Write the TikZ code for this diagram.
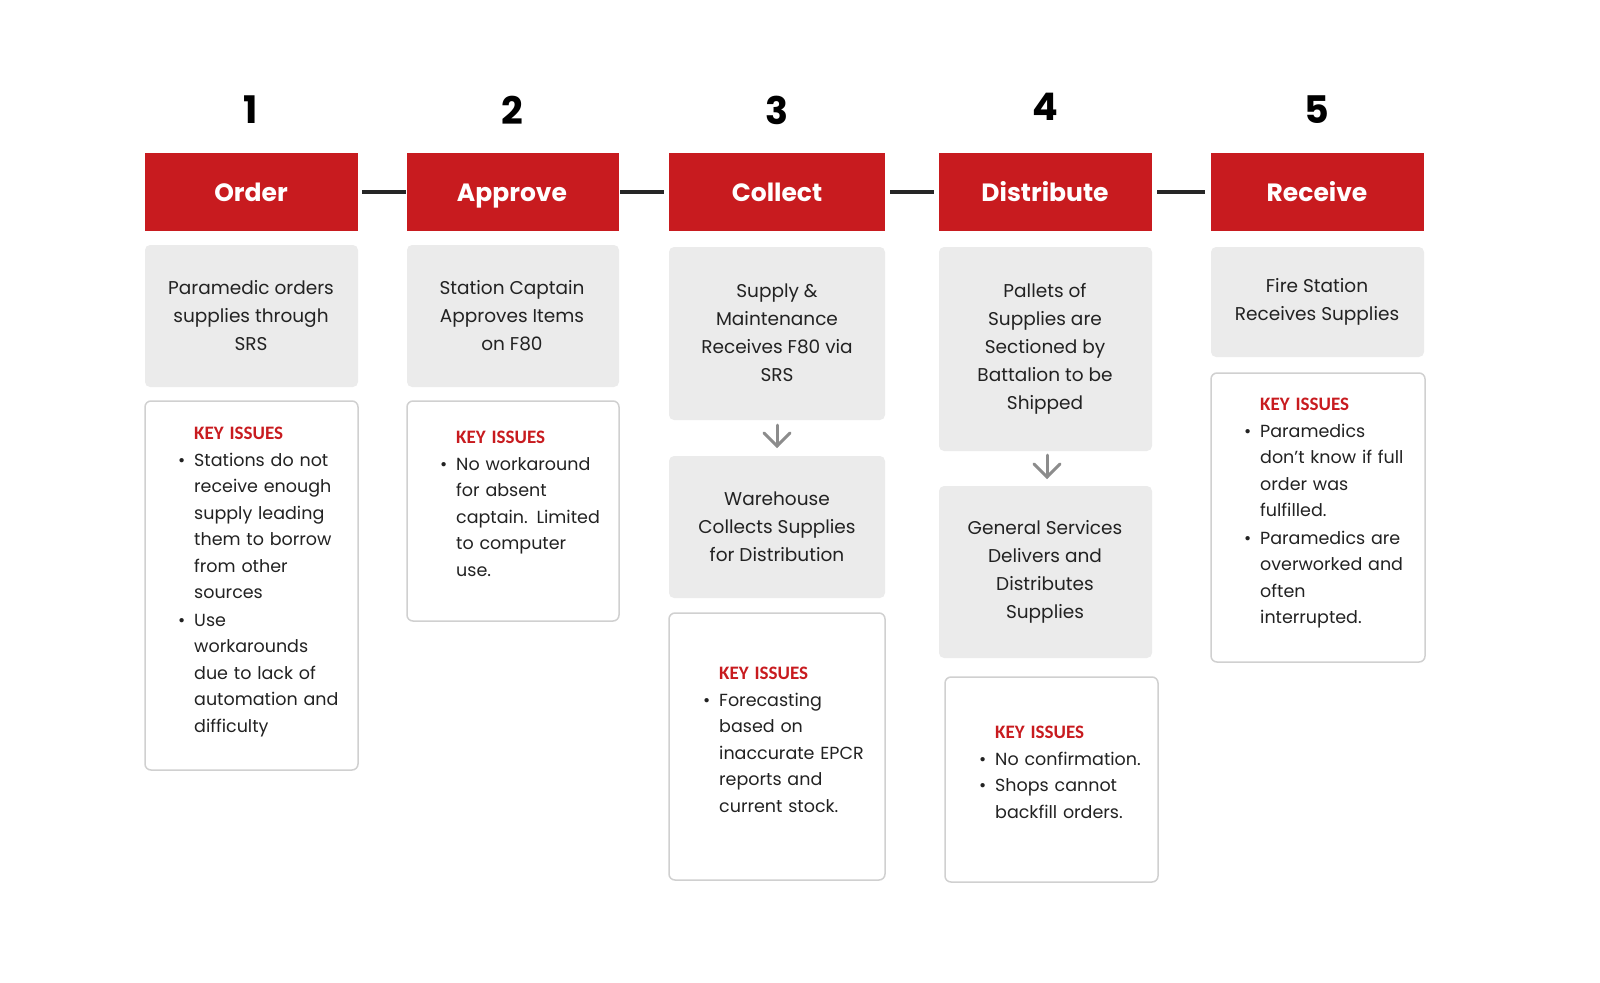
\documentclass[tikz,border=0pt]{standalone}
\usepackage{fontspec}
\setmainfont{Poppins}
\newfontfamily\keyfont{Carlito}
\definecolor{hred}{HTML}{C81B1F}
\definecolor{gbox}{HTML}{EBEBEB}
\definecolor{gline}{HTML}{D0D0D0}
\definecolor{txt}{HTML}{222222}
\newcommand\kitem[1]{\par\noindent\makebox[17pt][l]{\hspace{1pt}\textbullet}\begin{tabular}[t]{@{}l@{}}#1\end{tabular}\par}
\newcommand\ktitle{\noindent\hspace{17pt}{\keyfont\bfseries\fontsize{19}{26.5}\selectfont\color{hred}KEY ISSUES}\par}
\begin{document}
\begin{tikzpicture}[x=1pt,y=-1pt,
  hdr/.style={text=white,font=\fontsize{25}{30}\selectfont\bfseries,inner sep=0pt,text height=18pt,text depth=6pt},
  num/.style={font=\fontsize{38}{40}\selectfont\bfseries,text=black},
  gt/.style={align=center,text=txt,font=\fontsize{18.5}{28}\selectfont},
  kb/.style={draw=gline,line width=1.5pt,fill=white,rounded corners=6pt},
  kt/.style={anchor=north west,text width=180pt,align=left,text=txt,font=\fontsize{17.5}{26.5}\selectfont,inner sep=0pt},
  conn/.style={line width=4pt,draw=black!85},
  dar/.style={line width=3pt,draw=gray!90,line cap=round}]
\useasboundingbox (0,0) rectangle (1600,982);
\node[num] (n1) at (251,110) {1};
\node[num] (n2) at (512,110) {2};
\node[num] (n3) at (777,110) {3};
\node[num] (n4) at (1045,107) {4};
\node[num] (n5) at (1317,110) {5};
\fill[hred] (145,153) rectangle (358,231); \node[hdr] (h1) at (251,195) {Order};
\fill[hred] (407,153) rectangle (619,231); \node[hdr] (h2) at (512,195) {Approve};
\fill[hred] (669,153) rectangle (885,231); \node[hdr] (h3) at (777,195) {Collect};
\fill[hred] (939,153) rectangle (1152,231); \node[hdr] (h4) at (1045,195) {Distribute};
\fill[hred] (1211,153) rectangle (1424,231); \node[hdr] (h5) at (1317,195) {Receive};
\coordinate (c1a) at (362,192); \coordinate (c1b) at (406,192);
\coordinate (c2a) at (620,192); \coordinate (c2b) at (664,192);
\coordinate (c3a) at (890,192); \coordinate (c3b) at (934,192);
\coordinate (c4a) at (1157,192); \coordinate (c4b) at (1205,192);
\draw[conn] (c1a)--(c1b); \draw[conn] (c2a)--(c2b); \draw[conn] (c3a)--(c3b); \draw[conn] (c4a)--(c4b);
\fill[gbox,rounded corners=5pt] (145,245) rectangle (358,387);
\node[gt] (g1) at (251,316) {Paramedic orders\\supplies through\\SRS};
\fill[gbox,rounded corners=5pt] (407,245) rectangle (619,387);
\node[gt] (g2) at (512,316) {Station Captain\\Approves Items\\on F80};
\fill[gbox,rounded corners=5pt] (669,247) rectangle (885,420);
\node[gt] (g3) at (777,333) {Supply \&\\Maintenance\\Receives F80 via\\SRS};
\fill[gbox,rounded corners=5pt] (669,456) rectangle (885,598);
\node[gt] (g3b) at (777,527) {Warehouse\\Collects Supplies\\for Distribution};
\fill[gbox,rounded corners=5pt] (939,247) rectangle (1152,451);
\node[gt] (g4) at (1045,349) {Pallets of\\Supplies are\\Sectioned by\\Battalion to be\\Shipped};
\fill[gbox,rounded corners=5pt] (939,486) rectangle (1152,658);
\node[gt] (g4b) at (1045,572) {General Services\\Delivers and\\Distributes\\Supplies};
\fill[gbox,rounded corners=5pt] (1211,247) rectangle (1424,357);
\node[gt] (g5) at (1317,302) {Fire Station\\Receives Supplies};
\coordinate (a3) at (777,425); \coordinate (a3e) at (777,446);
\draw[dar] (a3)--(a3e); \draw[dar] (764,433)--(a3e)--(790,433);
\coordinate (a4) at (1047,455); \coordinate (a4e) at (1047,477);
\draw[dar] (a4)--(a4e); \draw[dar] (1034,464)--(a4e)--(1060,464);
\draw[kb] (145,401) rectangle (358,770);
\node[kt] (k1) at (177,427) {\ktitle
\kitem{Stations do not\\receive enough\\supply leading\\them to borrow\\from other\\sources}
\kitem{Use\\workarounds\\due to lack of\\automation and\\difficulty}};
\draw[kb] (407,401) rectangle (619,621);
\node[kt] (k2) at (439,431) {\ktitle
\kitem{No workaround\\for absent\\captain. Limited\\to computer\\use.}};
\draw[kb] (669,613) rectangle (885,880);
\node[kt] (k3) at (702,667) {\ktitle
\kitem{Forecasting\\based on\\inaccurate EPCR\\reports and\\current stock.}};
\draw[kb] (945,677) rectangle (1158,882);
\node[kt] (k4) at (978,726) {\ktitle
\kitem{No confirmation.}
\kitem{Shops cannot\\backfill orders.}};
\draw[kb] (1211,373) rectangle (1425,662);
\node[kt] (k5) at (1243,398) {\ktitle
\kitem{Paramedics\\don't know if full\\order was\\fulfilled.}
\kitem{Paramedics are\\overworked and\\often\\interrupted.}};
\end{tikzpicture}
\end{document}
